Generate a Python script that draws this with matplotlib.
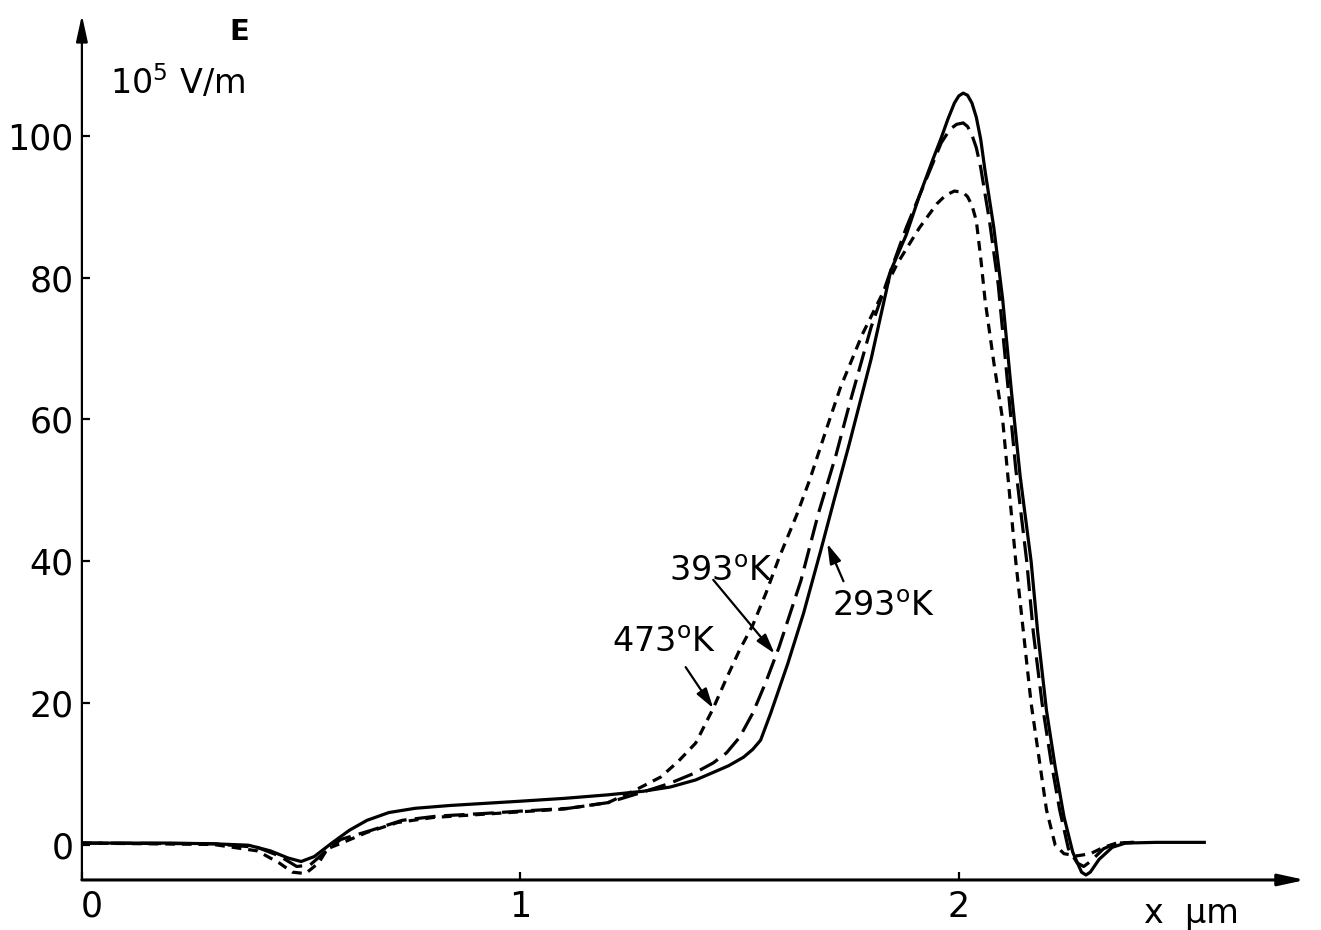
import matplotlib
matplotlib.use("Agg")
import matplotlib.pyplot as plt
from matplotlib.transforms import ScaledTranslation

plt.rcParams['font.family'] = ['DejaVu Sans']
plt.rcParams['mathtext.fontset'] = 'dejavusans'
plt.rcParams['lines.scale_dashes'] = False

# field profiles E(x), x in um, E in 1e5 V/m
x_293 = [0.00, 0.10, 0.20, 0.30, 0.38, 0.43, 0.47, 0.50, 0.53, 0.57, 0.61, 0.65,
         0.70, 0.76, 0.84, 0.92, 1.00, 1.10, 1.20, 1.28, 1.342, 1.40, 1.434, 1.475,
         1.509, 1.53, 1.548, 1.571, 1.61, 1.646, 1.685, 1.715, 1.75, 1.80, 1.845,
         1.88, 1.91, 1.94, 1.96, 1.975, 1.99, 2.00, 2.01, 2.02, 2.03, 2.04, 2.05,
         2.06, 2.08, 2.10, 2.12, 2.14, 2.165, 2.18, 2.20, 2.22, 2.24, 2.26, 2.28,
         2.29, 2.30, 2.32, 2.35, 2.38, 2.45, 2.56]
E_293 = [0.3, 0.3, 0.3, 0.2, 0.0, -0.8, -1.8, -2.3, -1.6, 0.3, 2.1, 3.5,
         4.6, 5.2, 5.6, 5.9, 6.2, 6.6, 7.1, 7.6, 8.2, 9.2, 10.1, 11.2,
         12.4, 13.5, 14.8, 18.6, 25.6, 32.7, 41.5, 48.5, 56.5, 68.5, 81.0,
         86.0, 91.5, 96.5, 99.7, 102.3, 104.6, 105.6, 106.0, 105.7, 104.6, 102.6, 99.5,
         95.0, 87.0, 77.0, 64.0, 52.0, 40.0, 30.0, 19.0, 11.0, 4.0, -1.0, -3.8,
         -4.2, -3.8, -2.0, -0.3, 0.3, 0.4, 0.4]

x_393 = [0.00, 0.30, 0.40, 0.45, 0.49, 0.52, 0.55, 0.59, 0.66, 0.73, 0.81, 0.925,
         1.00, 1.11, 1.20, 1.28, 1.34, 1.395, 1.44, 1.47, 1.50, 1.53, 1.56, 1.59,
         1.64, 1.68, 1.72, 1.75, 1.80, 1.845, 1.88, 1.92, 1.96, 1.98, 1.995, 2.01,
         2.02, 2.03, 2.04, 2.05, 2.07, 2.09, 2.11, 2.13, 2.155, 2.17, 2.19, 2.21,
         2.23, 2.25, 2.27, 2.285, 2.30, 2.33, 2.36, 2.40]
E_393 = [0.3, 0.2, -0.3, -1.5, -3.0, -2.8, -1.2, 0.8, 2.1, 3.5, 4.1, 4.5,
         4.8, 5.2, 6.0, 7.5, 8.7, 10.1, 11.6, 13.0, 15.2, 18.6, 23.0, 27.9,
         37.3, 46.8, 55.0, 62.0, 73.0, 81.0, 87.0, 93.0, 99.0, 100.9, 101.6, 101.8,
         101.3, 100.1, 98.3, 95.5, 88.0, 79.0, 66.0, 53.0, 40.0, 30.0, 20.0, 12.0,
         5.0, -0.5, -2.5, -3.0, -2.3, -0.5, 0.3, 0.4]

x_473 = [0.00, 0.30, 0.40, 0.45, 0.48, 0.51, 0.54, 0.56, 0.60, 0.65, 0.72, 0.80,
         0.90, 1.00, 1.10, 1.20, 1.26, 1.32, 1.36, 1.40, 1.44, 1.47, 1.50, 1.53,
         1.56, 1.59, 1.63, 1.66, 1.70, 1.73, 1.78, 1.82, 1.86, 1.91, 1.95, 1.97,
         1.99, 2.01, 2.02, 2.03, 2.04, 2.05, 2.06, 2.08, 2.10, 2.13, 2.165, 2.20,
         2.22, 2.24, 2.27, 2.30, 2.33, 2.36, 2.40]
E_473 = [0.3, 0.1, -0.8, -2.5, -3.8, -4.0, -2.5, -0.5, 0.5, 1.8, 3.2, 3.9,
         4.3, 4.7, 5.1, 6.0, 7.7, 9.6, 11.8, 14.4, 19.3, 23.5, 27.5, 31.0,
         35.5, 40.5, 46.5, 51.5, 59.0, 64.5, 72.0, 77.0, 82.0, 87.0, 90.4, 91.6,
         92.2, 92.0, 91.4, 90.2, 88.0, 82.8, 76.8, 68.0, 60.0, 40.0, 20.0, 5.0,
         0.0, -1.2, -1.5, -1.2, -0.3, 0.3, 0.4]

y_ticks = [0, 20, 40, 60, 80, 100]
x_ticks = [0, 1, 2]

fig = plt.figure(figsize=(13.21, 9.30), dpi=100)
ax = fig.add_axes([0.062, 0.0538, 0.926, 0.930])
ax.set_xlim(0, 2.79)
ax.set_ylim(-4.9, 117)

ax.plot(x_293, E_293, color='k', lw=2.3, solid_joinstyle='round')
ax.plot(x_393, E_393, color='k', lw=2.3, dashes=(15, 6))
ax.plot(x_473, E_473, color='k', lw=2.3, dashes=(7, 5))

# axes drawn as arrows
for s in ['top', 'right', 'left', 'bottom']:
    ax.spines[s].set_visible(False)
ax.annotate('', xy=(0, 117), xytext=(0, -4.9),
            arrowprops=dict(arrowstyle='-|>,head_length=1.6,head_width=0.35',
                            lw=1.6, color='k', shrinkA=0, shrinkB=0),
            annotation_clip=False)
ax.annotate('', xy=(2.79, -4.9), xytext=(0, -4.9),
            arrowprops=dict(arrowstyle='-|>,head_length=1.6,head_width=0.35',
                            lw=2.2, color='k', shrinkA=0, shrinkB=0),
            annotation_clip=False)

ax.set_yticks(y_ticks)
ax.set_xticks(x_ticks)
ax.tick_params(axis='y', direction='in', length=6, width=1.6, pad=6, labelsize=25)
ax.tick_params(axis='x', direction='in', length=6, width=1.6, pad=7, labelsize=25)
lbl0 = ax.get_xticklabels()[0]
lbl0.set_transform(lbl0.get_transform() + ScaledTranslation(0.10, 0, fig.dpi_scale_trans))

ax.text(0.36, 114.6, 'E', fontsize=21, fontweight='bold', ha='center', va='center')
ax.text(0.065, 107.5, r'10$^{5}$ V/m', fontsize=24, ha='left', va='center')
ax.text(2.53, -9.6, r'x  µm', fontsize=24, ha='center', va='center', clip_on=False)

# temperature labels with arrows
arr = dict(arrowstyle='-|>,head_length=1.2,head_width=0.35', lw=1.6, color='k',
           shrinkA=0, shrinkB=0)
ax.text(1.34, 38.6, r'393$^{\mathrm{o}}$K', fontsize=24, ha='left', va='center')
ax.annotate('', xy=(1.58, 27.0), xytext=(1.44, 37.4), arrowprops=arr)
ax.text(1.21, 28.6, r'473$^{\mathrm{o}}$K', fontsize=24, ha='left', va='center')
ax.annotate('', xy=(1.44, 19.3), xytext=(1.377, 25.1), arrowprops=arr)
ax.text(1.71, 33.6, r'293$^{\mathrm{o}}$K', fontsize=24, ha='left', va='center')
ax.annotate('', xy=(1.70, 42.5), xytext=(1.737, 37.2), arrowprops=arr)

fig.savefig('out.png', dpi=100)
